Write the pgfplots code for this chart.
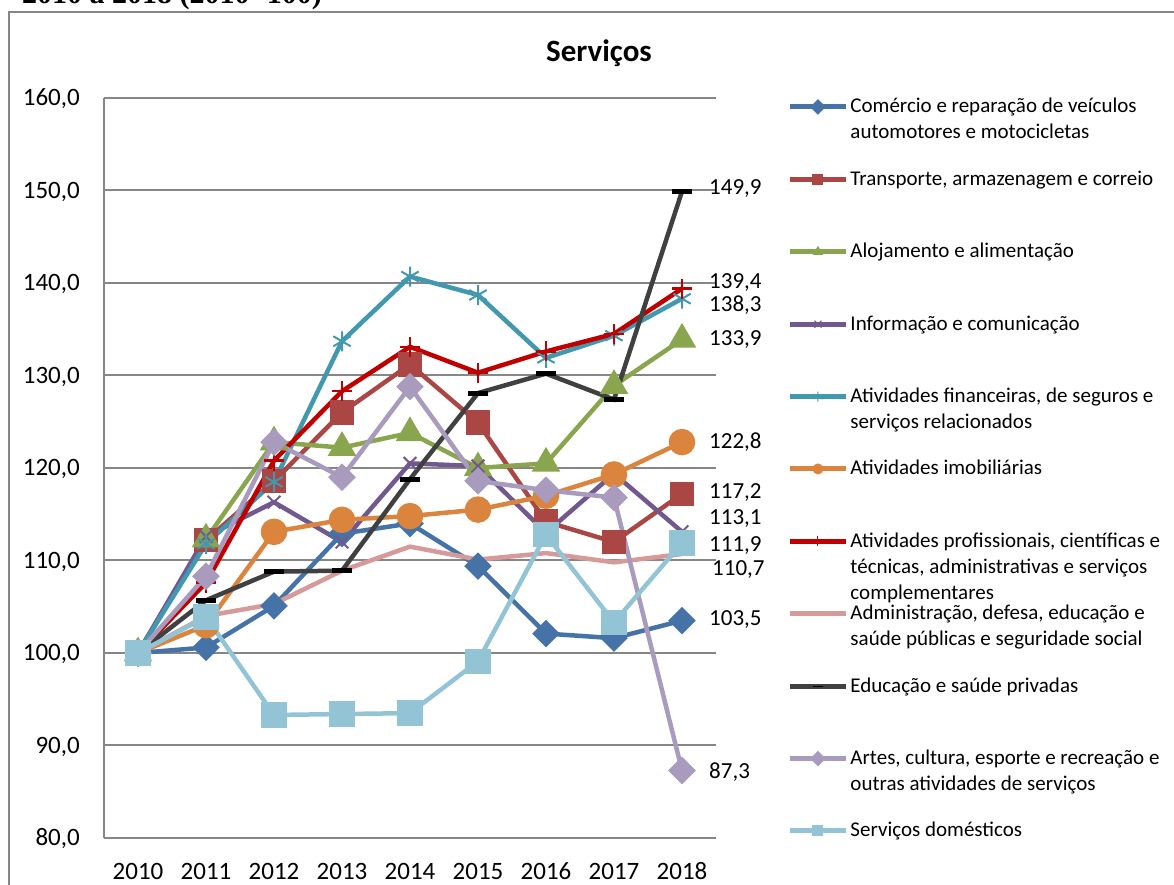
\documentclass[border=0pt]{standalone}
\usepackage{pgfplots}
\pgfplotsset{compat=1.18}
\usepackage{fontspec}
\setmainfont{Carlito}
\newfontfamily\serifbold{Liberation Serif}
\definecolor{gridgray}{HTML}{868686}
\definecolor{cA}{HTML}{4572A7}
\definecolor{cB}{HTML}{AA4643}
\definecolor{cC}{HTML}{89A54E}
\definecolor{cD}{HTML}{71588F}
\definecolor{cE}{HTML}{4198AF}
\definecolor{cF}{HTML}{DB843D}
\definecolor{cG}{HTML}{C00000}
\definecolor{cH}{HTML}{D59A99}
\definecolor{cI}{HTML}{404040}
\definecolor{cJ}{HTML}{A99BBD}
\definecolor{cK}{HTML}{93C4D6}
\newcommand\lgt[1]{\parbox[t][72.4pt][t]{330pt}{\raggedright\rule{0pt}{20pt}#1}}
\begin{document}
\begin{tikzpicture}
\begin{axis}[
  scale only axis,
  width=612pt, height=740pt,
  xmin=-0.5, xmax=8.5, ymin=80, ymax=160,
  clip=false,
  xtick={0,1,2,3,4,5,6,7,8},
  xticklabels={2010,2011,2012,2013,2014,2015,2016,2017,2018},
  ytick={80,90,100,110,120,130,140,150,160},
  yticklabels={{80,0},{90,0},{100,0},{110,0},{120,0},{130,0},{140,0},{150,0},{160,0}},
  axis x line*=bottom, axis y line*=left,
  axis line style={-, draw=gridgray, line width=2pt},
  ymajorgrids, grid style={draw=gridgray, line width=2pt},
  major tick length=0pt,
  ticklabel style={font=\fontsize{25}{30}\selectfont, inner sep=0pt},
  yticklabel style={xshift=-24pt, text height=16pt, text depth=0pt},
  xticklabel style={yshift=-25pt, text height=16pt, text depth=0pt},
  every axis plot/.append style={line width=4.5pt},
  legend image code/.code={
    \draw[mark repeat=2,mark phase=2,#1, line width=5pt, mark size=5pt,
          every mark/.append style={line width=1pt}]
      plot coordinates {(0pt,6pt) (28pt,6pt) (56pt,6pt)};
  },
  legend style={
    at={(1.1168,1.0068)}, anchor=north west,
    draw=none, fill=none, inner sep=0pt, outer sep=0pt,
    cells={anchor=base west},
    nodes={inner sep=0pt, text depth=},
    column sep=2pt,
    font=\fontsize{21}{26}\selectfont,
  },
]
\addplot[color=cA, mark=square*, mark size=7.5pt, mark options={rotate=45, solid, fill=cA}]
  coordinates {(0,100) (1,100.6) (2,105.1) (3,112.9) (4,114.0) (5,109.4) (6,102.1) (7,101.6) (8,103.5)};
\addlegendentry{\lgt{Comércio e reparação de veículos\\automotores e motocicletas}}
\addplot[color=cB, mark=square*, mark size=10pt, mark options={solid, fill=cB}]
  coordinates {(0,100) (1,112.2) (2,118.6) (3,126.0) (4,131.2) (5,124.9) (6,114.2) (7,112.0) (8,117.2)};
\addlegendentry{\lgt{Transporte, armazenagem e correio}}
\addplot[color=cC, mark=triangle*, mark size=12pt, mark options={solid, fill=cC}]
  coordinates {(0,100) (1,112.3) (2,122.8) (3,122.2) (4,123.8) (5,120.0) (6,120.5) (7,128.9) (8,133.9)};
\addlegendentry{\lgt{Alojamento e alimentação}}
\addplot[color=cD, mark=x, mark size=9pt, mark options={solid, line width=2pt}]
  coordinates {(0,100) (1,112.6) (2,116.3) (3,112.0) (4,120.5) (5,120.2) (6,113.0) (7,119.4) (8,113.1)};
\addlegendentry{\lgt{Informação e comunicação}}
\addplot[color=cE, mark=asterisk, mark size=10pt, mark options={solid, line width=2pt}]
  coordinates {(0,100) (1,111.8) (2,118.5) (3,133.7) (4,140.7) (5,138.7) (6,131.9) (7,134.3) (8,138.3)};
\addlegendentry{\lgt{Atividades financeiras, de seguros e\\serviços relacionados}}
\addplot[color=cF, mark=*, mark size=11pt, mark options={solid, fill=cF}]
  coordinates {(0,100) (1,103.0) (2,113.1) (3,114.4) (4,114.8) (5,115.5) (6,117.0) (7,119.3) (8,122.8)};
\addlegendentry{\lgt{Atividades imobiliárias}}
\addplot[color=cG, mark=+, mark size=10pt, mark options={solid, line width=2.5pt}]
  coordinates {(0,100) (1,107.6) (2,120.8) (3,128.3) (4,133.1) (5,130.3) (6,132.6) (7,134.5) (8,139.4)};
\addlegendentry{\lgt{Atividades profissionais, científicas e\\técnicas, administrativas e serviços\\complementares}}
\addplot[color=cH, mark=none]
  coordinates {(0,100) (1,104.0) (2,105.3) (3,108.9) (4,111.5) (5,110.1) (6,110.8) (7,109.8) (8,110.7)};
\addlegendentry{\lgt{Administração, defesa, educação e\\saúde públicas e seguridade social}}
\addplot[color=cI, mark=-, mark size=10pt, mark options={solid, draw=black, line width=5pt}]
  coordinates {(0,100) (1,105.7) (2,108.8) (3,108.9) (4,118.8) (5,128.1) (6,130.2) (7,127.4) (8,149.9)};
\addlegendentry{\lgt{Educação e saúde privadas}}
\addplot[color=cJ, mark=square*, mark size=7.5pt, mark options={rotate=45, solid, fill=cJ}]
  coordinates {(0,100) (1,108.3) (2,122.8) (3,119.0) (4,128.8) (5,118.6) (6,117.6) (7,116.8) (8,87.3)};
\addlegendentry{\lgt{Artes, cultura, esporte e recreação e\\outras atividades de serviços}}
\addplot[color=cK, mark=square*, mark size=10.5pt, mark options={solid, fill=cK}]
  coordinates {(0,100) (1,103.9) (2,93.3) (3,93.4) (4,93.5) (5,99.1) (6,112.8) (7,103.3) (8,111.9)};
\addlegendentry{\lgt{Serviços domésticos}}
\tikzset{lbl/.style={anchor=west, inner sep=0pt, xshift=27pt, font=\fontsize{23}{28}\selectfont}}
\node[lbl] at (axis cs:8,150.2) {149,9};
\node[lbl] at (axis cs:8,140.1) {139,4};
\node[lbl] at (axis cs:8,137.6) {138,3};
\node[lbl] at (axis cs:8,133.9) {133,9};
\node[lbl] at (axis cs:8,122.8) {122,8};
\node[lbl] at (axis cs:8,117.3) {117,2};
\node[lbl] at (axis cs:8,114.5) {113,1};
\node[lbl] at (axis cs:8,111.6) {111,9};
\node[lbl, xshift=3pt] at (axis cs:8,109.0) {110,7};
\node[lbl] at (axis cs:8,103.6) {103,5};
\node[lbl] at (axis cs:8,87.1) {87,3};
\coordinate (O) at (rel axis cs:0,0);
\end{axis}
\pgfresetboundingbox
\begin{scope}[shift={(O)}, x=1pt, y=1pt]
  % image pixel (X,Y) -> (X-104, 838-Y)
  \path[use as bounding box] (-104,838) rectangle (1070,-47);
  \draw[gridgray, line width=2pt] (-95,-60) -- (-95,826) -- (1090,826);
  \node[anchor=base east, inner sep=0pt, font=\serifbold\bfseries\fontsize{30}{34}\selectfont] at (218,834) {2010 a 2018 (2010=100)};
  \node[anchor=base, inner sep=0pt, font=\bfseries\fontsize{31}{36}\selectfont] at (495,776) {Serviços};
\end{scope}
\end{tikzpicture}
\end{document}
